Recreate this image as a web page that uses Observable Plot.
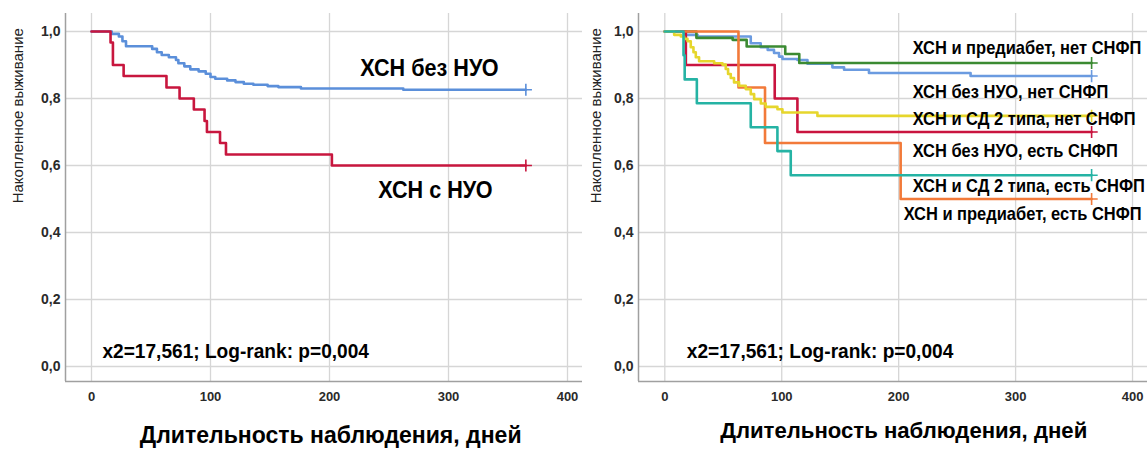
<!DOCTYPE html>
<html>
<head>
<meta charset="utf-8">
<script src="https://cdn.jsdelivr.net/npm/d3@7"></script>
<script src="https://cdn.jsdelivr.net/npm/@observablehq/plot@0.6"></script>
<style>
  html, body { margin: 0; padding: 0; background: #fff; }
  #wrap { position: relative; width: 1147px; height: 457px; overflow: hidden; background: #fff; }
  .panel { position: absolute; top: 0; }
</style>
</head>
<body>
<div id="wrap"><div id="left" class="panel" style="left:0px"></div><div id="right" class="panel" style="left:585px"></div></div>
<script>
// ---------- data ----------
const xTicks = [0, 100, 200, 300, 400];
const yTicks = [0, 0.2, 0.4, 0.6, 0.8, 1.0];
const yTitle = "Накопленное выживание";
const xTitle = "Длительность наблюдения, дней";
const statText = "x2=17,561; Log-rank: p=0,004";

// Left panel
const leftNames = ["ХСН без НУО", "ХСН с НУО"];
const leftColors = ["#5b8fda", "#c8163e"];
const leftBlueT = [0, 17, 23, 26, 29, 51, 55, 59, 65, 71, 73, 78, 83, 90, 96, 100, 104, 114, 121, 128, 136, 148, 157, 176, 262, 365];
const leftBlueS = [1, .993, .985, .971, .956, .948, .938, .930, .923, .915, .905, .896, .887, .881, .874, .864, .859, .854, .849, .844, .841, .837, .834, .830, .826, .826];
const leftRedT = [0, 16, 18, 27, 63, 74, 86, 95, 97, 108, 113, 202, 365];
const leftRedS = [1, .967, .9, .867, .833, .8, .767, .733, .7, .667, .633, .6, .6];

// Right panel
const rightNames = [
  "ХСН и предиабет, нет СНФП",
  "ХСН без НУО, нет СНФП",
  "ХСН и СД 2 типа, нет СНФП",
  "ХСН без НУО, есть СНФП",
  "ХСН и СД 2 типа, есть СНФП",
  "ХСН и предиабет, есть СНФП"
];
const rightBlueT = [0, 16.5, 28, 73.5, 82, 88, 93.4, 97.7, 100.6, 113.4, 122, 143.3, 153.3, 174.6, 261.5, 365];
const rightBlueS = [1, .990, .985, .965, .953, .945, .936, .925, .918, .915, .904, .893, .886, .876, .867, .867];
const rightGreenT = [0, 27, 58, 70, 103, 115, 365];
const rightGreenS = [1, .981, .975, .955, .933, .906, .906];
const rightRedT = [0, 18, 94, 113.4, 365];
const rightRedS = [1, .9, .8, .7, .7];
const rightOrangeT = [0, 63, 85.7, 201.7, 365];
const rightOrangeS = [1, .833, .667, .5, .5];
const rightYellowT = [0, 8, 13.7, 16.5, 19.4, 22.2, 24.5, 26.5, 29.3, 42.2, 49.3, 52.1, 54.1, 56.4, 59.2, 63.5, 69.2, 73.5, 76.4, 82.1, 86.3, 96.3, 100.6, 130.5, 365];
const rightYellowS = [1, .990, .985, .978, .971, .953, .938, .923, .911, .905, .901, .888, .873, .861, .848, .838, .828, .813, .798, .785, .775, .768, .758, .748, .748];
const rightTealT = [0, 16, 17, 27.4, 73.5, 96.3, 107.7, 365];
const rightTealS = [1, .929, .857, .786, .714, .643, .571, .571];

// label anchor positions in data units (days, survival)
const leftLabelT = [284, 289];
const leftLabelS = [0.89, 0.525];
const rightLabelT = [212, 212, 212, 212, 212, 204.3];
const rightLabelS = [0.949, 0.818, 0.737, 0.642, 0.537, 0.454];

// ---------- helpers ----------
const BASE = '"Liberation Sans", Arial, sans-serif';
const yDomain = [-0.0448, 1.0537];
const toRows = (T, S) => T.map((t, i) => ({t, s: S[i]}));

function panel({width, marginLeft, marginRight, xDomain, series, labels, labelFont, labelScale, statT, titleX, titleFont, ytitleDx, titleDy}) {
  const marks = [
    Plot.gridX(xTicks, {stroke: "#d6d6d6", strokeOpacity: 1, strokeWidth: 1.3}),
    Plot.gridY(yTicks, {stroke: "#d6d6d6", strokeOpacity: 1, strokeWidth: 1.3}),
    Plot.ruleX([xDomain[0]], {stroke: "#a0a0a0", strokeWidth: 1.5}),
    Plot.ruleY([yDomain[0]], {stroke: "#a0a0a0", strokeWidth: 1.5}),
    Plot.axisY({ticks: yTicks, tickSize: 0, tickPadding: 5, label: null, fontSize: 14, fontWeight: "bold", fill: "#2a2a2a",
      tickFormat: d => d.toFixed(1).replace(".", ",")}),
    Plot.axisX({ticks: xTicks, tickSize: 0, tickPadding: 10, label: null, fontSize: 13, fontWeight: "bold", fill: "#2a2a2a"})
  ];
  for (const s of series) {
    const rows = toRows(s.T, s.S);
    marks.push(Plot.line(rows, {x: "t", y: "s", curve: "step-after", stroke: s.color, strokeWidth: 2.6}));
    marks.push(Plot.dot([rows[rows.length - 1]], {x: "t", y: "s", symbol: "plus", stroke: s.color, r: 4, strokeWidth: 1.6}));
  }
  marks.push(Plot.text(labels, {x: "t", y: "s", text: "text", textAnchor: labels[0].anchor, fontWeight: "bold",
    fontSize: labelFont, fill: "#000", ariaDescription: "sx:" + labelScale}));
  marks.push(Plot.text([statText], {x: statT, y: 0.045, text: d => d, textAnchor: "start",
    fontWeight: "bold", fontSize: 19.5, fill: "#000", ariaDescription: "sx:0.98"}));
  marks.push(Plot.text([xTitle], {x: titleX, frameAnchor: "bottom", dy: titleDy, text: d => d, fontWeight: "bold",
    fontSize: titleFont, fill: "#000", ariaDescription: "sx:0.98"}));
  marks.push(Plot.text([yTitle], {frameAnchor: "left", y: 0.487, dx: ytitleDx, rotate: -90, text: d => d,
    fontSize: 15, fill: "#222"}));
  const svg = Plot.plot({
    width, height: 457, marginTop: 13, marginBottom: 76, marginLeft, marginRight,
    x: {domain: xDomain},
    y: {domain: yDomain},
    style: {fontFamily: BASE, background: "transparent", overflow: "visible"},
    marks
  });
  // horizontal compression of narrow-looking texts (about each text's own anchor)
  svg.querySelectorAll('g[aria-description^="sx:"]').forEach(g => {
    const k = +g.getAttribute("aria-description").slice(3);
    g.querySelectorAll("text").forEach(t => {
      const tr = t.getAttribute("transform") || "";
      t.setAttribute("transform", tr + ` scale(${k},1)`);
    });
  });
  return svg;
}

const leftLabels = leftNames.map((text, i) => ({text, t: leftLabelT[i], s: leftLabelS[i], anchor: "middle"}));
const leftSeries = [
  {T: leftBlueT, S: leftBlueS, color: leftColors[0]},
  {T: leftRedT, S: leftRedS, color: leftColors[1]}
];
document.getElementById("left").append(panel({
  width: 585, marginLeft: 65, marginRight: 3, xDomain: [-21.85, 412.6],
  series: leftSeries, labels: leftLabels, labelFont: 23, labelScale: 0.94, statT: 9.2,
  titleX: 201, titleFont: 23.5, ytitleDx: -47, titleDy: 61
}));

const rightLabels = rightNames.map((text, i) => ({text, t: rightLabelT[i], s: rightLabelS[i], anchor: "start"}));
const rightSeries = [
  {T: rightBlueT, S: rightBlueS, color: "#6b9be0"},
  {T: rightGreenT, S: rightGreenS, color: "#3b8a32"},
  {T: rightRedT, S: rightRedS, color: "#c9143f"},
  {T: rightOrangeT, S: rightOrangeS, color: "#f27a3a"},
  {T: rightYellowT, S: rightYellowS, color: "#e6d62c"},
  {T: rightTealT, S: rightTealS, color: "#25b3a4"}
];
document.getElementById("right").append(panel({
  width: 562, marginLeft: 53, marginRight: 0, xDomain: [-22.5, 412.8],
  series: rightSeries, labels: rightLabels, labelFont: 18, labelScale: 0.915, statT: 18.8,
  titleX: 204.3, titleFont: 22.6, ytitleDx: -42, titleDy: 56
}));
</script>
</body>
</html>
